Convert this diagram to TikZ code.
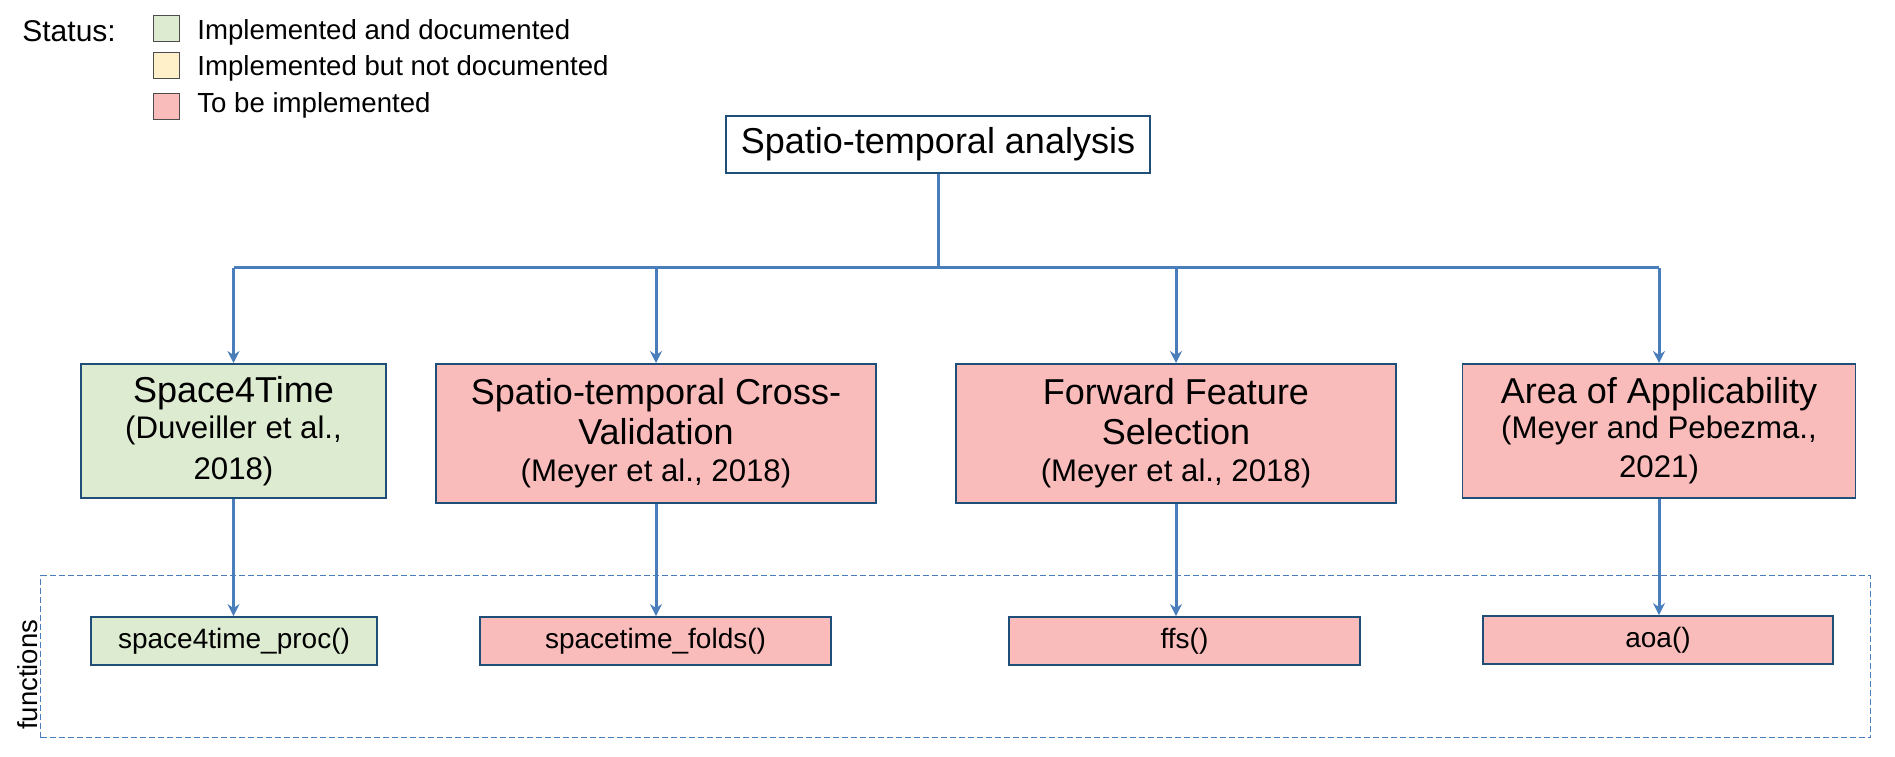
\documentclass[tikz,border=0pt]{standalone}
\usepackage{fontspec}
\setmainfont{Liberation Sans}
\usetikzlibrary{arrows.meta, positioning}
\definecolor{edgeblue}{HTML}{1F4E79}
\definecolor{linkblue}{HTML}{4A7EBB}
\definecolor{donegreen}{HTML}{DDEBD1}
\definecolor{nodocyellow}{HTML}{FFF0C9}
\definecolor{todopink}{HTML}{FABCBB}
\newcommand{\reffont}{\fontsize{15.6}{20}\selectfont}

\begin{document}
\begin{tikzpicture}[
			x=0.5pt, y=0.5pt,
			font=\fontsize{18}{20.5}\selectfont,
			box/.style={draw=edgeblue, line width=0.9pt, align=center, inner sep=0pt, anchor=north},
			fnbox/.style={draw=edgeblue, line width=0.9pt, minimum height=24pt, inner sep=0pt,
				font=\fontsize{14}{16}\selectfont},
			keybox/.style={draw=black!70, line width=0.5pt, minimum size=13pt, inner sep=0pt},
			keytext/.style={anchor=base west, inner sep=0pt, font=\fontsize{13.8}{16}\selectfont},
			link/.style={draw=linkblue, line width=1.5pt},
			arr/.style={link, -{Stealth[length=6pt, width=6pt, inset=2pt]}}
			]
			\useasboundingbox (0,0) rectangle (1895,756);

			% legend
			\node[anchor=base west, inner sep=0pt, font=\fontsize{15}{17}\selectfont] (status) at (22,714.5) {Status:};
			\node[keybox, fill=donegreen] (keydone) at (166,727) {};
			\node[keybox, fill=nodocyellow] (keynodoc) at (166,690.5) {};
			\node[keybox, fill=todopink] (keytodo) at (166,649) {};
			\node[keytext] at (197,716.7) {Implemented and documented};
			\node[keytext] at (197,680) {Implemented but not documented};
			\node[keytext] at (197,643.3) {To be implemented};

			\node[draw=edgeblue, line width=0.9pt, minimum width=212pt, minimum height=28.5pt, inner sep=0pt] (root) at (938,611.5) {Spatio-temporal analysis};

			\node[box, fill=donegreen, minimum width=152.5pt, minimum height=67pt] (s4t) at (233.5,393)
			{Space4Time\\[-2.5pt]{\reffont (Duveiller et al.,}\\{\reffont 2018)}};
			\node[box, fill=todopink, minimum width=220pt, minimum height=69.5pt] (stcv) at (656,393)
			{Spatio-temporal Cross-\\[-0.75pt]Validation\\[-1.75pt]{\reffont (Meyer et al., 2018)}};
			\node[box, fill=todopink, minimum width=220pt, minimum height=69.5pt] (ffs) at (1176,393)
			{Forward Feature\\[-0.75pt]Selection\\[-1.75pt]{\reffont (Meyer et al., 2018)}};
			\node[box, fill=todopink, minimum width=196.5pt, minimum height=67pt] (aoa) at (1659,393)
			{Area of Applicability\\[-3pt]{\reffont (Meyer and Pebezma.,}\\[-1pt]{\reffont 2021)}};

			% functions
			\node[draw=linkblue, dash pattern=on 3pt off 1.5pt, line width=0.65pt, minimum width=915pt,
				minimum height=81pt, inner sep=0pt] (fnframe) at (955.8,99.3) {};
			\node[rotate=90, anchor=south, inner sep=1pt, font=\fontsize{13.75}{15}\selectfont] (fnlabel)
			at ([yshift=-9pt]fnframe.west) {functions};

			\node[fnbox, fill=donegreen, minimum width=143pt] (fs4t) at (234,115) {space4time\_proc()};
			\node[fnbox, fill=todopink, minimum width=175.5pt] (ffolds) at (655.5,115) {spacetime\_folds()};
			\node[fnbox, fill=todopink, minimum width=175.5pt] (fffs) at (1184.5,115) {ffs()};
			\node[fnbox, fill=todopink, minimum width=175pt] (faoa) at (1658,116) {aoa()};

			\coordinate (split) at (938,488);
			\draw[link] (root.south) -- (split);
			\draw[link] (s4t.north |- split) -- (aoa.north |- split);
			\foreach \m in {s4t, stcv, ffs, aoa} {
				\draw[arr] (\m.north |- split) -- (\m.north);
			}
			\foreach \m/\f in {s4t/fs4t, stcv/ffolds, ffs/fffs, aoa/faoa} {
				\draw[arr] (\m.south) -- (\m.south |- \f.north);
			}

		\end{tikzpicture}
\end{document}
